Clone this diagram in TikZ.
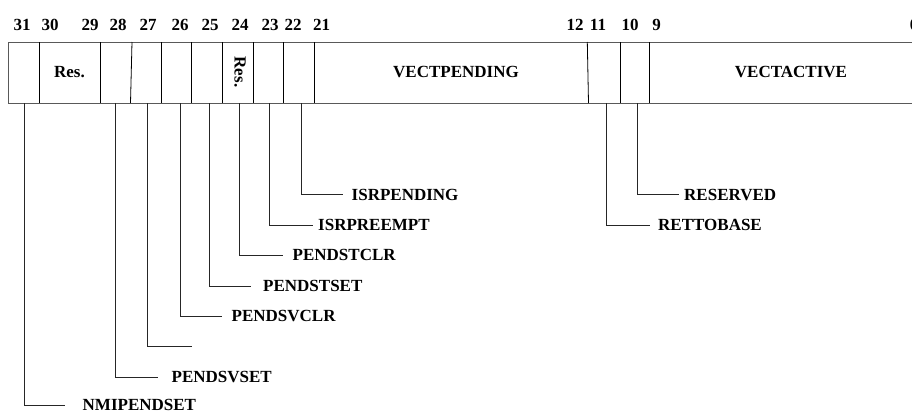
\documentclass[tikz,border=0pt]{standalone}
\usepackage{fontspec}
\setmainfont{Liberation Serif}
\begin{document}
\begin{tikzpicture}[x=1pt,y=-1pt,
  font=\fontsize{17}{20}\selectfont\bfseries,
  edge/.style={draw=black!65, line width=0.9pt},
  div/.style={draw=black, line width=0.8pt},
  leader/.style={draw=black!85, line width=0.9pt},
  bitnum/.style={inner sep=0pt, anchor=base},
  field/.style={inner sep=0pt},
  lbl/.style={inner sep=0pt, anchor=west}]
\useasboundingbox (0,0) rectangle (912,413);
% register outline
\draw[edge] (930,42) -- (8,42) -- (8,103) -- (930,103);
% dividers
\foreach \xt/\xb in {39.5/39.5, 100.5/100.5, 132/130.5, 161.5/161.5, 191.5/191.5,
  222.5/222.5, 253/253, 283.5/283.5, 314/314, 587.3/588.5, 620.5/620.5, 649.3/649.3}
  \draw[div] (\xt,42) -- (\xb,103);
% bit numbers
\foreach \x/\t in {22/31, 50/30, 90/29, 118/28, 148/27, 180/26, 210/25, 240/24,
  270/23, 293/22, 321.5/21, 575/12, 598/11, 630/10, 656.5/9, 914/0}
  \node[bitnum] (n\t) at (\x,30.5) {\t};
% field names
\node[field] (res30) at (69.5,72.5) {Res.};
\node[field, rotate=-90] (res24) at (240,72) {Res.};
\node[field] (vp) at (456,72) {VECTPENDING};
\node[field] (va) at (791,72) {VECTACTIVE};
% leader start points (box bottom)
\foreach \n/\x in {31/24, 28/115.7, 27/147.3, 26/180, 25/209, 24/239, 23/269.3,
  22/301.7, 11/606.7, 10/637.7}
  \coordinate (b\n) at (\x,103);
% labels
\node[lbl] (l31) at (82.5,405) {NMIPENDSET};
\node[lbl] (l28) at (171.5,377) {PENDSVSET};
\node[lbl] (l26) at (231.5,316) {PENDSVCLR};
\node[lbl] (l25) at (263,286) {PENDSTSET};
\node[lbl] (l24) at (292.5,255) {PENDSTCLR};
\node[lbl] (l23) at (318,225) {ISRPREEMPT};
\node[lbl] (l22) at (351.5,194.5) {ISRPENDING};
\node[lbl] (l11) at (658,225) {RETTOBASE};
\node[lbl] (l10) at (684,194.5) {RESERVED};
% leader end points
\coordinate (e31) at (65,405);
\coordinate (e28) at (157.7,377);
\coordinate (e27) at (192.3,346.7);
\coordinate (e26) at (221.7,316);
\coordinate (e25) at (250.7,286);
\coordinate (e24) at (282.7,255);
\coordinate (e23) at (313.3,225);
\coordinate (e22) at (343.3,194.5);
\coordinate (e11) at (650,225);
\coordinate (e10) at (679.3,194.5);
% leaders
\foreach \n in {31,28,27,26,25,24,23,22,11,10}
  \draw[leader] (b\n) |- (e\n);
\end{tikzpicture}
\end{document}
